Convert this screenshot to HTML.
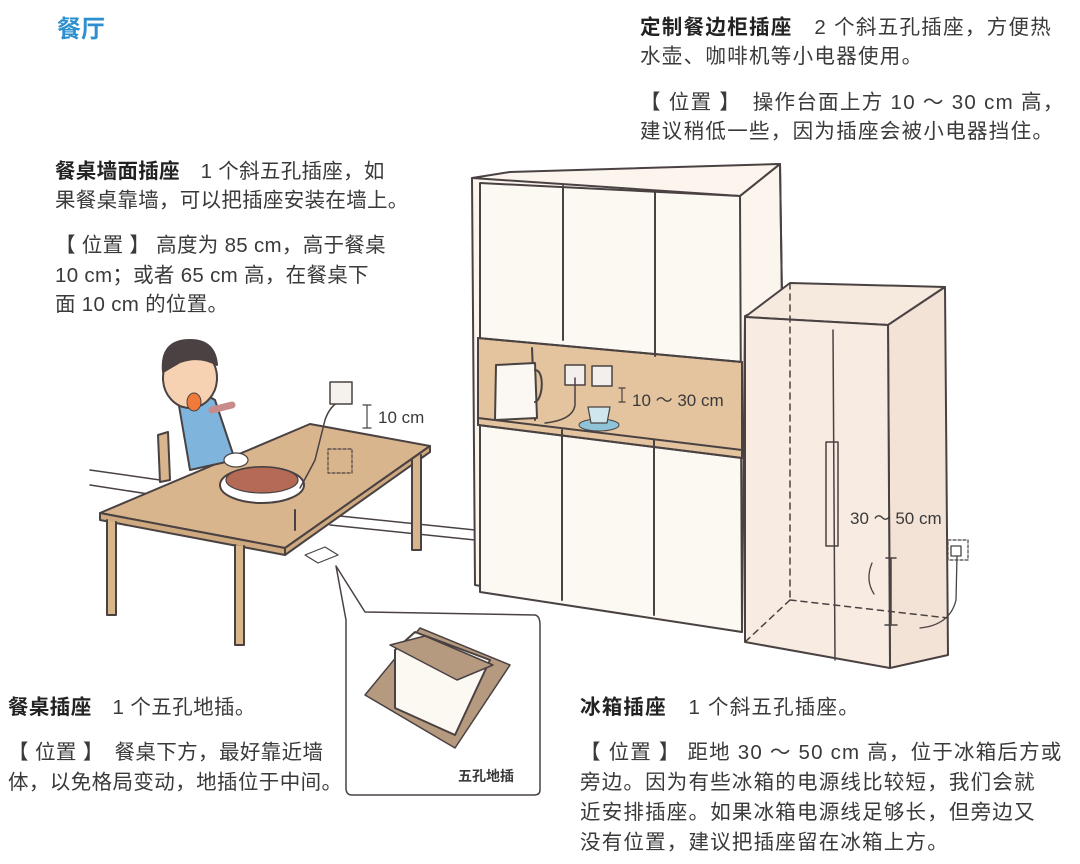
<!DOCTYPE html>
<html><head><meta charset="utf-8"><style>
body{margin:0;width:1080px;height:864px;background:#fff;position:relative;overflow:hidden;font-family:"Liberation Sans","Noto Sans CJK SC",sans-serif;color:#3a3a3a}
.t{position:absolute;font-size:20.5px;line-height:24px;white-space:nowrap}
.a{letter-spacing:1.3px}.l{letter-spacing:0.3px}.r{letter-spacing:1.2px}.bl{letter-spacing:0.4px}
b{font-weight:bold;color:#222}
svg{position:absolute;left:0;top:0}
</style></head><body>
<svg width="1080" height="864" viewBox="0 0 1080 864" fill="none" stroke="#4a4242" stroke-width="2" stroke-linejoin="round" stroke-linecap="round">
<path d="M90 470 L160 480 M90 485 L155 495 M330 515 L475 530 M330 525 L475 540" stroke-width="1.5"/>
<path d="M472 178 L780 164 L782 300 L745 316 L742 632 L475 585 Z" fill="#fbf5ee"/>
<path d="M472 178 L510 172 L780 164 L740 196 Z" fill="#fbf5ee"/>
<path d="M740 196 L780 164 L782 300" />
<path d="M480 183 L740 196 L742 632 L480 592 Z" fill="#fcf8f2"/>
<path d="M478 338 L742 362 L742 458 L478 425 Z" fill="#e3c49f"/>
<path d="M478 338 L742 362 M478 418 L742 450 M478 425 L742 458 M532 348 L535 420"/>
<path d="M563 186 L563 340 M655 192 L655 356 M562 430 L562 600 M654 440 L654 615"/>
<path d="M496 365 L535 363 L537 418 L495 420 Z" fill="#fbf7f2"/>
<path d="M535 370 C545 370 543 400 535 402" />
<rect x="565" y="365" width="20" height="20" fill="#f2efec" stroke-width="1.5"/>
<rect x="592" y="366" width="20" height="20" fill="#f2efec" stroke-width="1.5"/>
<path d="M575 378 L575 405 Q573 420 545 423" stroke-width="1.5"/>
<path d="M622 388 L622 402 M619 388 L625 388 M619 402 L625 402" stroke-width="1.2"/>
<ellipse cx="599" cy="425" rx="20" ry="6" fill="#8ec3d8" stroke-width="1"/>
<path d="M588 407 L610 407 L607 423 L591 423 Z" fill="#cfe6ef" stroke-width="1.2"/>
<path d="M745 317 L790 283 L945 287 L888 325 Z" fill="#f6e9de"/>
<path d="M888 325 L945 287 L948 655 L890 668 Z" fill="#f3e3d6"/>
<path d="M745 317 L888 325 L890 668 L745 642 Z" fill="#f8ece2"/>
<path d="M790 283 L790 600 M790 600 L745 642 M790 600 L948 618" stroke-dasharray="6 5" stroke-width="1.5"/>
<path d="M833 330 L835 660" stroke-width="1.5"/>
<rect x="826" y="442" width="12" height="104" stroke-width="1.5"/>
<path d="M891 558 L891 625 M886 558 L896 558 M885 625 L897 625" stroke-width="1.5"/>
<path d="M872 563 Q865 580 874 594" stroke-width="1.3"/>
<rect x="948" y="540" width="20" height="20" stroke-dasharray="3 2" stroke-width="1.2"/>
<rect x="951" y="546" width="10" height="10" stroke-width="1.3"/>
<path d="M957 556 L956 600 Q950 625 920 628" stroke-width="1.3"/>
<path d="M100 513 L310 424 L430 446 L285 548 Z" fill="#d9b58d"/>
<path d="M100 513 L285 548 L285 555 L100 520 Z" fill="#cfa97f"/>
<path d="M285 548 L430 446 L430 452 L285 555 Z" fill="#cfa97f"/>
<path d="M107 520 L107 615 L116 615 L116 522 M235 545 L235 645 L244 645 L244 546 M412 460 L412 550 L421 550 L421 455 M295 510 L295 530" fill="#d9b58d"/>
<path d="M158 435 L168 432 L170 480 L160 482 Z" fill="#d9b58d"/>
<path d="M178 400 Q200 390 215 400 L235 460 L190 470 Z" fill="#7fb4dc"/>
<ellipse cx="190" cy="378" rx="27" ry="30" fill="#f7d2b2"/>
<path d="M163 372 Q160 340 190 340 Q215 340 217 365 Q200 355 180 362 Z" fill="#4a4242"/>
<ellipse cx="194" cy="402" rx="7" ry="9" fill="#f07a3a" stroke-width="1"/>
<path d="M212 410 L232 405" stroke="#c98a8a" stroke-width="7"/>
<ellipse cx="262" cy="485" rx="42" ry="18" fill="#fff"/>
<ellipse cx="262" cy="480" rx="36" ry="13" fill="#b46a55" stroke-width="1.2"/>
<ellipse cx="236" cy="460" rx="12" ry="7" fill="#fff" stroke-width="1.2"/>
<path d="M300 488 Q310 470 315 460 L325 420 Q330 405 342 400" stroke-width="1.5"/>
<rect x="330" y="382" width="22" height="22" fill="#f5f1ec" stroke-width="1.5"/>
<path d="M367 405 L367 428 M363 405 L371 405 M363 428 L371 428" stroke-width="1.2"/>
<rect x="328" y="449" width="24" height="24" stroke-dasharray="3 2" stroke-width="1.2"/>
<path d="M305 555 L325 547 L338 555 L318 563 Z" fill="#fff" stroke-width="1.2"/>
<path d="M336 566 L365 612 L535 615 Q540 616 540 625 L540 790 Q540 795 534 795 L352 795 Q346 795 346 788 L346 620 Z" fill="#fff" stroke-width="1.5"/>
<path d="M365 695 L420 628 L510 665 L455 748 Z" fill="#b69a80" stroke-width="1.5"/>
<path d="M395 650 L415 632 L490 660 L455 735 L395 708 Z" fill="#fcf8f2"/>
<path d="M390 645 L425 636 L493 665 L457 680 Z" fill="#b69a80" stroke-width="1.5"/>
</svg>
<div class="t" style="left:57px;top:16px;font-size:24px;line-height:28px;color:#2b8fd0;font-weight:bold">餐厅</div>
<div class="t a" style="left:640px;top:16px"><b>定制餐边柜插座</b>　2 个斜五孔插座，方便热</div>
<div class="t a" style="left:640px;top:45px">水壶、咖啡机等小电器使用。</div>
<div class="t a" style="left:640px;top:91px">【 位置 】　操作台面上方 10 ～ 30 cm 高，</div>
<div class="t a" style="left:640px;top:120px">建议稍低一些，因为插座会被小电器挡住。</div>
<div class="t l" style="left:55px;top:160px"><b>餐桌墙面插座</b>　1 个斜五孔插座，如</div>
<div class="t l" style="left:55px;top:189px">果餐桌靠墙，可以把插座安装在墙上。</div>
<div class="t l" style="left:55px;top:234px">【 位置 】 高度为 85 cm，高于餐桌</div>
<div class="t l" style="left:55px;top:264px">10 cm；或者 65 cm 高，在餐桌下</div>
<div class="t l" style="left:55px;top:293px">面 10 cm 的位置。</div>
<div class="t" style="left:378px;top:406px;font-size:17px">10 cm</div>
<div class="t" style="left:632px;top:389px;font-size:17px">10 ～ 30 cm</div>
<div class="t" style="left:850px;top:507px;font-size:17px">30 ～ 50 cm</div>
<div class="t bl" style="left:8px;top:696px"><b>餐桌插座</b>　1 个五孔地插。</div>
<div class="t bl" style="left:8px;top:741px">【 位置 】　餐桌下方，最好靠近墙</div>
<div class="t bl" style="left:8px;top:771px">体，以免格局变动，地插位于中间。</div>
<div class="t" style="left:458px;top:764px;font-size:14px;font-weight:bold">五孔地插</div>
<div class="t r" style="left:580px;top:696px"><b>冰箱插座</b>　1 个斜五孔插座。</div>
<div class="t r" style="left:580px;top:741px">【 位置 】 距地 30 ～ 50 cm 高，位于冰箱后方或</div>
<div class="t r" style="left:580px;top:771px">旁边。因为有些冰箱的电源线比较短，我们会就</div>
<div class="t r" style="left:580px;top:801px">近安排插座。如果冰箱电源线足够长，但旁边又</div>
<div class="t r" style="left:580px;top:831px">没有位置，建议把插座留在冰箱上方。</div>
</body></html>
